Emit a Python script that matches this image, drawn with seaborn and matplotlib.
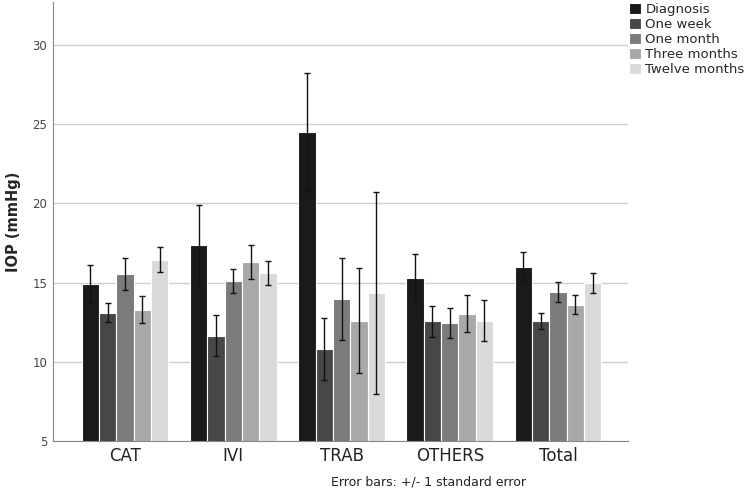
import matplotlib
matplotlib.use("Agg")
import matplotlib.pyplot as plt
import seaborn as sns
import pandas as pd

groups = ["CAT", "IVI", "TRAB", "OTHERS", "Total"]
times = ["Diagnosis", "One week", "One month", "Three months", "Twelve months"]

# mean IOP per group, one list per time point
diagnosis = [14.9, 17.4, 24.5, 15.3, 16.0]
one_week = [13.1, 11.65, 10.8, 12.55, 12.6]
one_month = [15.55, 15.1, 13.95, 12.45, 14.4]
three_months = [13.3, 16.3, 12.6, 13.05, 13.6]
twelve_months = [16.45, 15.6, 14.35, 12.6, 14.95]

# standard errors
se_diagnosis = [1.2, 2.5, 3.7, 1.5, 0.9]
se_one_week = [0.6, 1.3, 1.95, 1.0, 0.5]
se_one_month = [1.0, 0.75, 2.6, 0.97, 0.65]
se_three_months = [0.85, 1.05, 3.3, 1.18, 0.6]
se_twelve_months = [0.8, 0.75, 6.35, 1.3, 0.63]

colors = ["#1a1a1a", "#474747", "#7b7b7b", "#a8a8a8", "#dadada"]

means = [diagnosis, one_week, one_month, three_months, twelve_months]
ses = [se_diagnosis, se_one_week, se_one_month, se_three_months, se_twelve_months]

rows = []
for t, m, s in zip(times, means, ses):
    for g, v, e in zip(groups, m, s):
        rows.append({"group": g, "time": t, "iop": v, "se": e})
df = pd.DataFrame(rows)

sns.set_style("white")
plt.rcParams['font.family'] = ['DejaVu Sans']

fig = plt.figure(figsize=(7.46, 4.94), dpi=100)
ax = fig.add_axes([0.071, 0.107, 0.771, 0.889])

sns.barplot(data=df, x="group", y="iop", hue="time", order=groups,
            hue_order=times, palette=colors, errorbar=None, width=0.8,
            edgecolor="white", linewidth=0.8, saturation=1, ax=ax, zorder=2)

# error bars at the bar centres
for i, t in enumerate(times):
    cont = ax.containers[i]
    sub = df[df["time"] == t].set_index("group").loc[groups]
    xs = [p.get_x() + p.get_width() / 2 for p in cont.patches]
    ax.errorbar(xs, sub["iop"], yerr=sub["se"], fmt="none", ecolor="#111111",
                elinewidth=1, capsize=2, capthick=1, zorder=3)

ax.set_ylim(5, 32.7)
ax.set_xlim(-0.665, 4.647)
ax.set_yticks([5, 10, 15, 20, 25, 30])
ax.yaxis.grid(True, color="#cfcfcf", linewidth=1)
ax.set_axisbelow(True)
for s in ["top", "right"]:
    ax.spines[s].set_visible(False)
ax.spines["left"].set_color("#888888")
ax.spines["bottom"].set_color("#888888")
ax.tick_params(axis="y", labelsize=8.5, length=0, pad=4, labelcolor="#444444")
ax.tick_params(axis="x", labelsize=12, length=0, pad=4, labelcolor="#222222")
ax.set_xlabel("")
ax.set_ylabel("IOP (mmHg)", fontsize=10.5, fontweight="bold", labelpad=8)

ax.legend(loc="upper left", bbox_to_anchor=(1.0, 1.0), frameon=False,
          fontsize=9.5, handlelength=0.9, handleheight=0.9, handletextpad=0.3,
          labelspacing=0.15, borderaxespad=0.0, borderpad=0.1)

fig.text(0.574, 0.025, "Error bars: +/- 1 standard error", fontsize=9,
         ha="center", va="center", color="#222222")

fig.savefig("out.png", dpi=100)
